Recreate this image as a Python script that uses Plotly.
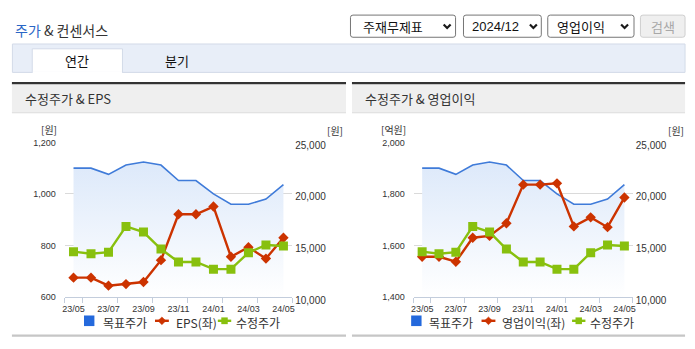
import plotly.graph_objects as go

# ---- data -------------------------------------------------------------
months = ["23/05", "23/06", "23/07", "23/08", "23/09", "23/10", "23/11",
          "23/12", "24/01", "24/02", "24/03", "24/04", "24/05"]
tick_labels = ["23/05", "23/07", "23/09", "23/11", "24/01", "24/03", "24/05"]

target_price = [22500, 22500, 21900, 22800, 23100, 22800, 21300,
                21300, 20000, 19000, 19000, 19500, 20900]        # 목표주가 (원)
adj_price = [14400, 14200, 14350, 16850, 16300, 14650, 13400,
             13400, 12700, 12700, 14300, 15050, 14950]           # 수정주가 (원)
eps = [675, 675, 644, 650, 658, 743, 921, 921, 951, 756, 793, 749, 830]   # EPS (원)
op_income = [1556, 1556, 1537, 1630, 1637, 1686, 1836, 1836, 1841,
             1674, 1709, 1671, 1786]                             # 영업이익 (억원)

price_ticks = [10000, 15000, 20000, 25000]
eps_ticks = [600, 800, 1000, 1200]
op_ticks = [1400, 1600, 1800, 2000]

# ---- styling ------------------------------------------------------------
W, H = 695, 349
KR = "Noto Sans CJK KR, Noto Sans, sans-serif"
NUM = "Liberation Sans, Arial, sans-serif"
BLUE_LINE = "#3f7bd9"
BLUE_SWATCH = "#2469dc"
RED = "#cc3300"
GREEN = "#88c00e"
AXIS = "#c3cddc"
GRID = "#dadada"


def fx(x):
    return x / W


def fy(y):
    return 1 - y / H


idx = list(range(len(months)))
tick_idx = [months.index(m) for m in tick_labels]
boundaries = [-0.5] + [i + 0.5 for i in tick_idx]

fig = go.Figure()


def add_panel(xa, ya_price, ya_left, ya_top, left_vals, left_name):
    # target price as a shaded area
    fig.add_trace(go.Scatter(
        x=idx, y=target_price, xaxis=xa, yaxis=ya_price, mode="lines",
        line=dict(color=BLUE_LINE, width=1.6), fill="tozeroy",
        fillgradient=dict(type="vertical",
                          colorscale=[[0, "rgba(255,255,255,1)"], [1, "#dde9fa"]],
                          start=10500, stop=23000),
        name="목표주가", hoverinfo="skip"))
    fig.add_trace(go.Scatter(
        x=idx, y=left_vals, xaxis=xa, yaxis=ya_left, mode="lines+markers",
        line=dict(color=RED, width=2.4),
        marker=dict(symbol="diamond", size=8, color=RED),
        name=left_name))
    fig.add_trace(go.Scatter(
        x=idx, y=adj_price, xaxis=xa, yaxis=ya_top, mode="lines+markers",
        line=dict(color=GREEN, width=2.4),
        marker=dict(symbol="square", size=9, color=GREEN),
        name="수정주가"))


add_panel("x", "y", "y2", "y3", eps, "EPS(좌)")
add_panel("x2", "y4", "y5", "y6", op_income, "영업이익(좌)")


def xaxis_cfg(x0, x1, anchor):
    return dict(
        domain=[fx(x0), fx(x1)], anchor=anchor, range=[-0.5, len(months) - 0.5],
        tickmode="array", tickvals=tick_idx, ticktext=tick_labels, ticks="",
        tickfont=dict(family=NUM, size=9, color="#333"), ticklabelstandoff=3,
        showline=True, linecolor=AXIS, linewidth=1, showgrid=False, zeroline=False,
        minor=dict(tickmode="array", tickvals=boundaries, ticks="outside",
                   ticklen=5, tickcolor=AXIS, tickwidth=1, showgrid=False),
        fixedrange=True)


def price_axis_cfg(anchor):
    return dict(
        domain=[fy(303.3), fy(142.7)], anchor=anchor, side="right",
        range=[10000, 25000], tickmode="array", tickvals=price_ticks,
        tickformat=",", ticks="", showline=False, zeroline=False,
        showgrid=True, gridcolor=GRID, gridwidth=1,
        tickfont=dict(family=NUM, size=10, color="#333"),
        ticklabelstandoff=2, ticklabelshift=3, fixedrange=True)


def left_axis_cfg(anchor, over, rng, ticks):
    return dict(
        overlaying=over, anchor=anchor, side="left", range=rng,
        tickmode="array", tickvals=ticks, tickformat=",", ticks="",
        showline=False, zeroline=False, showgrid=False,
        tickfont=dict(family=NUM, size=9, color="#333"),
        ticklabelstandoff=8, fixedrange=True)


def hidden_axis_cfg(anchor, over):
    return dict(overlaying=over, anchor=anchor, range=[10000, 25000],
                visible=False, fixedrange=True)


fig.update_layout(
    width=W, height=H, margin=dict(l=0, r=0, t=0, b=0),
    paper_bgcolor="white", plot_bgcolor="rgba(0,0,0,0)",
    xaxis=xaxis_cfg(62.3, 291.7, "y"),
    yaxis=price_axis_cfg("x"),
    yaxis2=left_axis_cfg("x", "y", [600, 1200], eps_ticks),
    yaxis3=hidden_axis_cfg("x", "y"),
    xaxis2=xaxis_cfg(414.3, 635.3, "y4"),
    yaxis4=price_axis_cfg("x2"),
    yaxis5=left_axis_cfg("x2", "y4", [1400, 2000], op_ticks),
    yaxis6=hidden_axis_cfg("x2", "y4"),
    showlegend=False,
)

shapes = []
annotations = []


def rect(x0, y0, x1, y1, fill=None, line=None, width=1, layer="below"):
    shapes.append(dict(type="rect", xref="paper", yref="paper",
                       x0=fx(x0), x1=fx(x1), y0=fy(y1), y1=fy(y0),
                       fillcolor=fill or "rgba(0,0,0,0)",
                       line=dict(color=line or "rgba(0,0,0,0)", width=width if line else 0),
                       layer=layer))


def rrect(x0, y0, x1, y1, r, fill, line):
    pts = (f"M {fx(x0 + r)},{fy(y0)} L {fx(x1 - r)},{fy(y0)} "
           f"Q {fx(x1)},{fy(y0)} {fx(x1)},{fy(y0 + r)} L {fx(x1)},{fy(y1 - r)} "
           f"Q {fx(x1)},{fy(y1)} {fx(x1 - r)},{fy(y1)} L {fx(x0 + r)},{fy(y1)} "
           f"Q {fx(x0)},{fy(y1)} {fx(x0)},{fy(y1 - r)} L {fx(x0)},{fy(y0 + r)} "
           f"Q {fx(x0)},{fy(y0)} {fx(x0 + r)},{fy(y0)} Z")
    shapes.append(dict(type="path", xref="paper", yref="paper", path=pts,
                       fillcolor=fill, line=dict(color=line, width=1), layer="below"))


def path(points, color, width, fill=None, close=False):
    p = "M " + " L ".join(f"{fx(a)},{fy(b)}" for a, b in points) + (" Z" if close else "")
    shapes.append(dict(type="path", xref="paper", yref="paper", path=p,
                       fillcolor=fill or "rgba(0,0,0,0)",
                       line=dict(color=color, width=width)))


def chevron(cx, cy):
    path([(cx - 3.5, cy - 1.8), (cx, cy + 1.8), (cx + 3.5, cy - 1.8)], "#1a1a1a", 2.2)


def text(x, y, s, size=13, color="#333", anchor="left", family=KR):
    annotations.append(dict(xref="paper", yref="paper", x=fx(x), y=fy(y),
                            xanchor=anchor, yanchor="middle", text=s,
                            showarrow=False,
                            font=dict(family=family, size=size, color=color)))


# page header
text(10, 26, "<span style='color:#2a66c6'>주가</span> & 컨센서스", size=14, color="#333")
rrect(350.5, 10.5, 456.5, 33.5, 2.5, "white", "#767676")
rrect(464.5, 10.5, 543, 33.5, 2.5, "white", "#767676")
rrect(549.5, 10.5, 636.5, 33.5, 2.5, "white", "#767676")
rrect(643, 10.5, 688, 33.5, 2.5, "#efefef", "#cfcfcf")
text(361, 22, "주재무제표", size=13, color="#111")
text(471, 22, "2024/12", size=13, color="#111", family=NUM)
text(557, 22, "영업이익", size=13, color="#111")
text(665.5, 22, "검색", size=13, color="#a8a8a8", anchor="center")
chevron(448, 22)
chevron(535, 22)
chevron(627, 22)

# tab bar
rect(9.5, 40.5, 688, 70, fill="#e8eef8", line="#d3dbe8")
rect(29.5, 45.5, 120.5, 70, fill="white", line="#d3dbe8")
rect(30, 69, 120, 71, fill="white")
text(75, 57.5, "연간", size=13, color="#111", anchor="center")
text(176, 57.5, "분기", size=13, color="#111", anchor="center")

# panel frames
for x0, x1, title in [(9, 346, "수정주가 & EPS"), (352, 688, "수정주가 & 영업이익")]:
    rect(x0, 80, x1, 82.5, fill="#333333")
    rect(x0, 82.5, x1, 112, fill="#efefef")
    rect(x0, 111.5, x1, 112.5, fill="#dcdcdc")
    rect(x0, 342.3, x1, 344.6, fill="#c6c6c6")
    text(x0 + 11, 97, title, size=13, color="#333")

# axis unit labels
text(46.5, 129.8, "[원]", size=10, color="#333", anchor="center")
text(335, 130.5, "[원]", size=10, color="#333", anchor="center")
text(394, 129.8, "[억원]", size=10, color="#333", anchor="center")
text(679, 130.5, "[원]", size=10, color="#333", anchor="center")

# legends under each chart
LY = 328
TY = 329.5
for bx, tx1, rx, tx2, gx, tx3, left_name in [
        (81.7, 99, 153.3, 172, 216.7, 233.5, "EPS(좌)"),
        (411.7, 428, 482.7, 501, 574, 590, "영업이익(좌)")]:
    rect(bx, LY - 5.5, bx + 10.5, LY + 5.5, fill=BLUE_SWATCH, layer="above")
    text(tx1, TY, "목표주가", size=12, color="#333")
    path([(rx, LY), (rx + 14, LY)], RED, 2.4)
    path([(rx + 7, LY - 4), (rx + 11, LY), (rx + 7, LY + 4), (rx + 3, LY)],
         RED, 0.5, fill=RED, close=True)
    text(tx2, TY, left_name, size=12, color="#333")
    path([(gx, LY), (gx + 13.5, LY)], GREEN, 2.4)
    rect(gx + 3.5, LY - 3.5, gx + 10, LY + 3.5, fill=GREEN, layer="above")
    text(tx3, TY, "수정주가", size=12, color="#333")

fig.update_layout(shapes=shapes, annotations=annotations)

fig.write_html("out.html")
